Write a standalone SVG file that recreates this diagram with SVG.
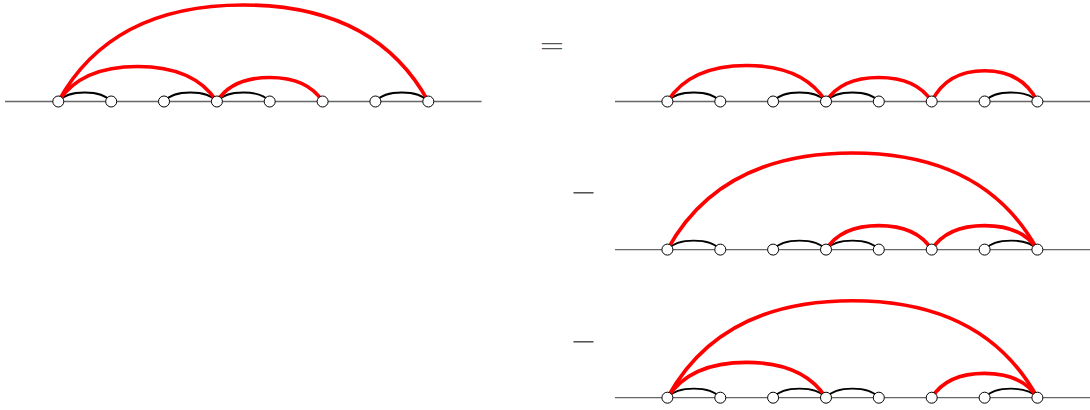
<svg xmlns="http://www.w3.org/2000/svg" xmlns:xlink="http://www.w3.org/1999/xlink" width="1090" height="410" viewBox="0 0 1090 410">
<style>
.base{stroke:#666;stroke-width:1.3;fill:none}
.red{stroke:#ff0000;stroke-width:3.6;fill:none;stroke-linecap:round}
.blk{stroke:#000;stroke-width:1.8;fill:none}
.node{fill:#fff;stroke:#000;stroke-width:1}
.op{font-family:"DejaVu Sans",sans-serif;font-weight:200;font-size:32px;fill:#555;text-anchor:middle}
</style>
<defs>
<path id="b" d="M0,0 C5.3,-6.3 14.5,-9 26.43,-9 C38.3,-9 47.6,-6.3 52.86,0"/>
<circle id="n" r="5.5"/>
</defs>
<g id="baselines">
<line class="base" x1="5" y1="101.5" x2="481.5" y2="101.5"/>
<line class="base" x1="615" y1="101.5" x2="1090" y2="101.5"/>
<line class="base" x1="615" y1="249.6" x2="1090" y2="249.6"/>
<line class="base" x1="615" y1="397.7" x2="1090" y2="397.7"/>
</g>
<g id="operators">
<text class="op" x="552" y="55.7">=</text>
<text class="op" x="583.7" y="203.3">−</text>
<text class="op" x="583.7" y="351.7">−</text>
</g>
<g id="connectors">
<g class="blk">
<use href="#b" x="58.3" y="101.5"/><use href="#b" x="164" y="101.5"/><use href="#b" x="216.9" y="101.5"/><use href="#b" x="375.4" y="101.5"/>
<use href="#b" x="667.4" y="101.5"/><use href="#b" x="773.1" y="101.5"/><use href="#b" x="826" y="101.5"/><use href="#b" x="984.6" y="101.5"/>
<use href="#b" x="667.4" y="249.6"/><use href="#b" x="773.1" y="249.6"/><use href="#b" x="826" y="249.6"/><use href="#b" x="984.6" y="249.6"/>
<use href="#b" x="667.4" y="397.7"/><use href="#b" x="773.1" y="397.7"/><use href="#b" x="826" y="397.7"/><use href="#b" x="984.6" y="397.7"/>
</g>
<g class="red">
<path d="M58.3,101.5 C95.3,33.9 160,5 243.3,5 C326.6,5 391.3,33.9 428.3,101.5"/>
<path d="M58.3,101.5 C74.2,77 101.9,66.5 137.6,66.5 C173.3,66.5 201,77 216.9,101.5"/>
<path d="M216.9,101.5 C227.5,84.7 246,77.5 269.75,77.5 C293.5,77.5 312,84.7 322.6,101.5"/>
<path d="M667.4,101.5 C683.3,76.3 711,65.5 746.7,65.5 C782.4,65.5 810.1,76.3 826,101.5"/>
<path d="M826,101.5 C836.6,84.7 855.1,77.5 878.85,77.5 C902.6,77.5 921.1,84.7 931.7,101.5"/>
<path d="M931.7,101.5 C942.3,80 960.8,70.8 984.55,70.8 C1008.3,70.8 1026.8,80 1037.4,101.5"/>
<path d="M667.4,249.6 C704.4,182 769.2,153 852.4,153 C935.6,153 1000.4,182 1037.4,249.6"/>
<path d="M826,249.6 C836.6,232.8 855.1,225.6 878.85,225.6 C902.6,225.6 921.1,232.8 931.7,249.6"/>
<path d="M931.7,249.6 C942.3,232.8 960.8,225.6 984.55,225.6 C1008.3,225.6 1026.8,232.8 1037.4,249.6"/>
<path d="M667.4,397.7 C704.4,329.8 769.2,300.7 852.4,300.7 C935.6,300.7 1000.4,329.8 1037.4,397.7"/>
<path d="M667.4,397.7 C683.3,373 711,362.4 746.7,362.4 C782.4,362.4 810.1,373 826,397.7"/>
<path d="M931.7,397.7 C942.3,380.7 960.8,373.4 984.55,373.4 C1008.3,373.4 1026.8,380.7 1037.4,397.7"/>
</g>
</g>
<g id="nodes" class="node">
<g id="L1"><use href="#n" x="58.3" y="101.5"/></g>
<g id="L2"><use href="#n" x="111.2" y="101.5"/></g>
<g id="L3"><use href="#n" x="164" y="101.5"/></g>
<g id="L4"><use href="#n" x="216.9" y="101.5"/></g>
<g id="L5"><use href="#n" x="269.7" y="101.5"/></g>
<g id="L6"><use href="#n" x="322.6" y="101.5"/></g>
<g id="L7"><use href="#n" x="375.4" y="101.5"/></g>
<g id="L8"><use href="#n" x="428.3" y="101.5"/></g>
<g id="A1"><use href="#n" x="667.4" y="101.5"/></g>
<g id="A2"><use href="#n" x="720.3" y="101.5"/></g>
<g id="A3"><use href="#n" x="773.1" y="101.5"/></g>
<g id="A4"><use href="#n" x="826" y="101.5"/></g>
<g id="A5"><use href="#n" x="878.8" y="101.5"/></g>
<g id="A6"><use href="#n" x="931.7" y="101.5"/></g>
<g id="A7"><use href="#n" x="984.6" y="101.5"/></g>
<g id="A8"><use href="#n" x="1037.4" y="101.5"/></g>
<g id="B1"><use href="#n" x="667.4" y="249.6"/></g>
<g id="B2"><use href="#n" x="720.3" y="249.6"/></g>
<g id="B3"><use href="#n" x="773.1" y="249.6"/></g>
<g id="B4"><use href="#n" x="826" y="249.6"/></g>
<g id="B5"><use href="#n" x="878.8" y="249.6"/></g>
<g id="B6"><use href="#n" x="931.7" y="249.6"/></g>
<g id="B7"><use href="#n" x="984.6" y="249.6"/></g>
<g id="B8"><use href="#n" x="1037.4" y="249.6"/></g>
<g id="C1"><use href="#n" x="667.4" y="397.7"/></g>
<g id="C2"><use href="#n" x="720.3" y="397.7"/></g>
<g id="C3"><use href="#n" x="773.1" y="397.7"/></g>
<g id="C4"><use href="#n" x="826" y="397.7"/></g>
<g id="C5"><use href="#n" x="878.8" y="397.7"/></g>
<g id="C6"><use href="#n" x="931.7" y="397.7"/></g>
<g id="C7"><use href="#n" x="984.6" y="397.7"/></g>
<g id="C8"><use href="#n" x="1037.4" y="397.7"/></g>
</g>
</svg>
